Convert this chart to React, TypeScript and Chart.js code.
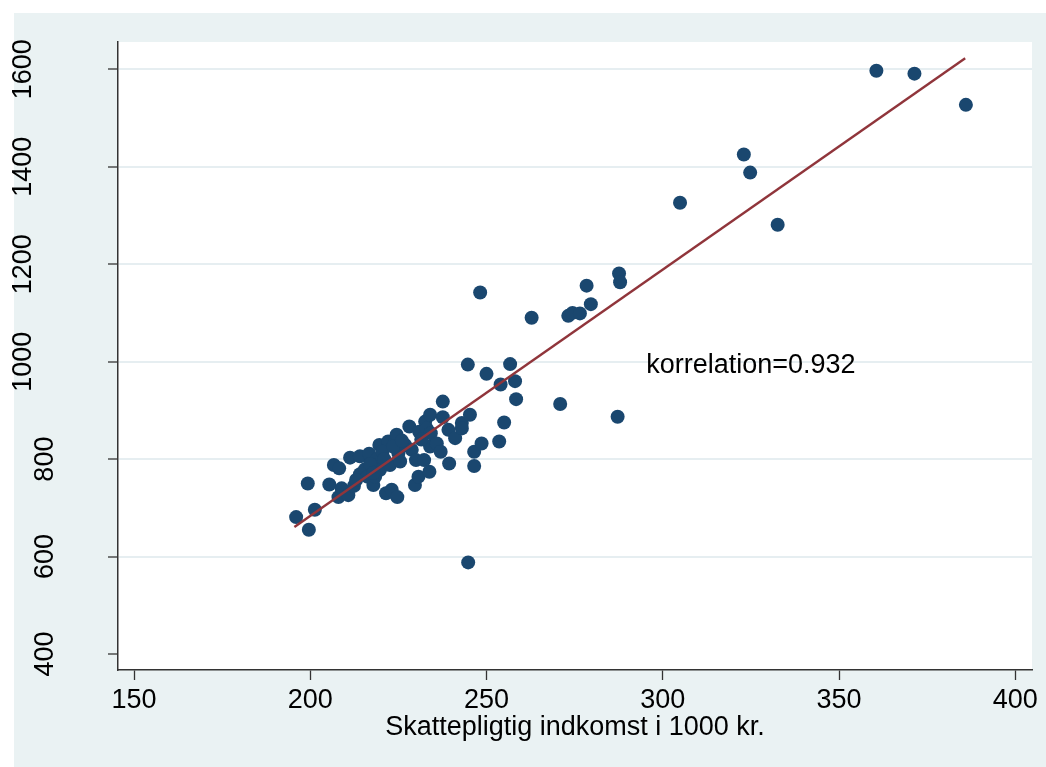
import React, { useEffect, useRef } from "react";
import { Chart, registerables } from "chart.js";

Chart.register(...registerables);

// Taxable income (1000 kr.) per observation
const incomeX = [
  196.0, 199.6, 199.3, 201.3, 205.4, 206.7, 208.2, 208.0, 208.9, 210.8,
  211.3, 212.4, 214.1, 214.1, 215.5, 216.7, 216.2, 217.9, 219.0, 219.6,
  219.8, 218.4, 221.5, 222.1, 222.6, 223.1, 224.7, 224.5, 225.0, 225.5,
  226.9, 228.1, 228.8, 230.0, 229.7, 230.7, 230.9, 232.3, 232.6, 233.0,
  233.8, 234.0, 234.0, 234.2, 237.6, 237.6, 235.9, 237.0, 239.2, 239.4,
  241.1, 243.0, 243.0, 245.3, 246.5, 246.5, 248.6, 253.6, 255.0, 244.8,
  254.0, 258.1, 258.4, 248.2, 262.8, 273.2, 274.4, 276.5, 278.4, 279.6,
  287.6, 287.9, 244.7, 256.7, 250.0, 270.9, 287.2, 304.9, 323.0, 324.8,
  332.6, 360.6, 371.4, 386.0, 217.0, 220.5, 223.5, 218.0, 221.0, 226.0,
  231.5, 213.0,
];
// Y variable per observation
const valueY = [
  681, 655, 750, 696, 748, 788, 781, 722, 740, 726,
  803, 745, 806, 769, 779, 811, 764, 747, 800, 829,
  778, 764, 730, 836, 788, 737, 722, 850, 812, 795,
  829, 867, 819, 798, 747, 764, 856, 798, 877, 863,
  774, 891, 826, 853, 918, 886, 832, 815, 860, 791,
  843, 874, 863, 891, 815, 786, 832, 836, 875, 588,
  953, 960, 923, 1142, 1090, 1094, 1100, 1099, 1156, 1118,
  1181, 1163, 994, 995, 975, 913, 887, 1326, 1425, 1388,
  1281, 1597, 1591, 1527, 790, 815, 826, 772, 800, 838,
  840, 757,
];

// Fitted regression line end points
const fitX = [195.5, 385.8];
const fitY = [660.5, 1622.6];

const xTicks = [150, 200, 250, 300, 350, 400];
const yTicks = [400, 600, 800, 1000, 1200, 1400, 1600];
const xTitle = "Skattepligtig indkomst i 1000 kr.";
const annotationText = "korrelation=0.932";
const annotationX = 295.3;
const annotationY = 992;

const FONT = 'Arial, "Liberation Sans", Helvetica, sans-serif';
const FONT_SIZE = 27;
const NAVY = "#1a476f";
const MAROON = "#90353b";
const BG = "#eaf2f3";
const AXIS = "#333333";

const stataPlugin = {
  id: "stataLook",
  beforeDraw(chart: any) {
    const { ctx, width, height, chartArea } = chart;
    ctx.save();
    ctx.fillStyle = "#ffffff";
    ctx.fillRect(0, 0, width, height);
    ctx.fillStyle = BG;
    ctx.fillRect(14, 13, width - 14, height - 13);
    ctx.fillStyle = "#ffffff";
    ctx.fillRect(
      chartArea.left,
      chartArea.top,
      chartArea.right - chartArea.left,
      chartArea.bottom - chartArea.top
    );
    ctx.restore();
  },
  afterDraw(chart: any) {
    const { ctx } = chart;
    const ys = chart.scales.y;
    const xs = chart.scales.x;
    ctx.save();
    ctx.font = `${FONT_SIZE}px ${FONT}`;
    ctx.fillStyle = "#000000";
    ctx.textAlign = "center";
    ctx.textBaseline = "alphabetic";
    for (const t of ys.ticks) {
      const label = String(t.value);
      const w = ctx.measureText(label).width;
      const py = ys.getPixelForValue(t.value);
      const bx = 121 - 1.5 * w;
      ctx.save();
      ctx.translate(bx, py);
      ctx.rotate(-Math.PI / 2);
      ctx.fillText(label, 0, 0);
      ctx.restore();
    }
    ctx.textAlign = "left";
    ctx.textBaseline = "middle";
    ctx.fillText(
      annotationText,
      xs.getPixelForValue(annotationX),
      ys.getPixelForValue(annotationY)
    );
    ctx.restore();
  },
};

export default function App() {
  const canvasRef = useRef<HTMLCanvasElement | null>(null);

  useEffect(() => {
    const canvas = canvasRef.current;
    if (!canvas) return;
    const points = incomeX.map((x, i) => ({ x, y: valueY[i] }));
    const fitLine = fitX.map((x, i) => ({ x, y: fitY[i] }));

    const chart = new Chart(canvas, {
      type: "scatter",
      data: {
        datasets: [
          {
            type: "line",
            data: fitLine,
            borderColor: MAROON,
            borderWidth: 2.4,
            pointRadius: 0,
            showLine: true,
            fill: false,
            tension: 0,
            order: 0,
          } as any,
          {
            type: "scatter",
            data: points,
            backgroundColor: NAVY,
            borderColor: NAVY,
            borderWidth: 0,
            pointRadius: 7,
            order: 1,
          } as any,
        ],
      },
      options: {
        responsive: false,
        animation: false,
        devicePixelRatio: 1,
        layout: { padding: { top: 42, right: 14, left: 0, bottom: 0 } },
        plugins: {
          legend: { display: false },
          tooltip: { enabled: false },
        },
        scales: {
          x: {
            type: "linear",
            min: 145.46,
            max: 404.75,
            afterBuildTicks: (s: any) => {
              s.ticks = xTicks.map((v) => ({ value: v }));
            },
            afterFit: (s: any) => {
              s.height = 97;
            },
            grid: {
              display: true,
              drawOnChartArea: false,
              drawTicks: true,
              tickLength: 10,
              tickColor: AXIS,
              tickWidth: 1.3,
              color: AXIS,
            },
            border: { display: true, color: AXIS, width: 1.5 },
            ticks: {
              color: "#000000",
              font: { family: FONT, size: FONT_SIZE },
              padding: 4,
              maxRotation: 0,
              minRotation: 0,
              autoSkip: false,
            },
            title: {
              display: true,
              text: xTitle,
              color: "#000000",
              font: { family: FONT, size: FONT_SIZE },
              padding: { top: 0, bottom: 22.8 },
            },
          },
          y: {
            type: "linear",
            min: 367.2,
            max: 1656,
            afterBuildTicks: (s: any) => {
              s.ticks = yTicks.map((v) => ({ value: v }));
            },
            afterFit: (s: any) => {
              s.width = 118;
            },
            grid: {
              color: (c: any) =>
                c.tick && c.tick.value === 400 ? "rgba(0,0,0,0)" : "#e6eef1",
              lineWidth: 2,
              drawTicks: true,
              tickLength: 10,
              tickColor: AXIS,
              tickWidth: 1.3,
            },
            border: { display: true, color: AXIS, width: 1.5 },
            ticks: { display: false },
          },
        },
      } as any,
      plugins: [stataPlugin],
    });

    return () => chart.destroy();
  }, []);

  return (
    <div
      style={{
        position: "absolute",
        left: 0,
        top: 0,
        width: 1046,
        height: 767,
        overflow: "hidden",
      }}
    >
      <canvas
        ref={canvasRef}
        width={1046}
        height={767}
        style={{ display: "block", width: 1046, height: 767 }}
      />
    </div>
  );
}
